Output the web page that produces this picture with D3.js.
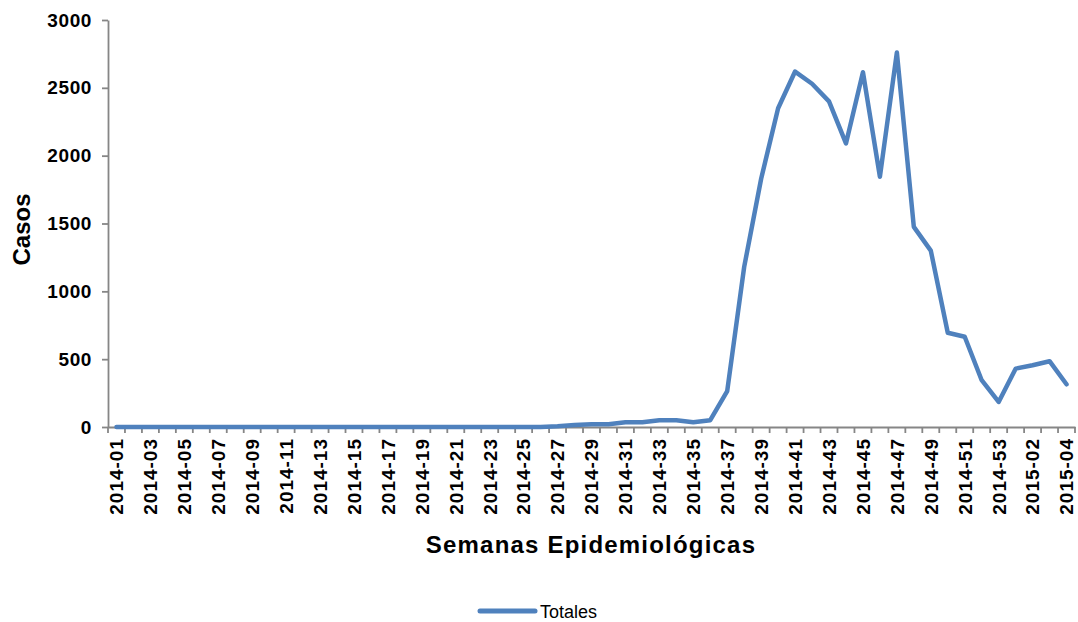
<!DOCTYPE html>
<html>
<head>
<meta charset="utf-8">
<script src="https://cdn.jsdelivr.net/npm/d3@7"></script>
<style>
  html, body { margin: 0; padding: 0; background: #fff; }
  svg { display: block; }
</style>
</head>
<body>
<svg id="chart" width="1078" height="622"></svg>
<script>
const categories = [
  "2014-01","2014-02","2014-03","2014-04","2014-05","2014-06","2014-07","2014-08","2014-09","2014-10",
  "2014-11","2014-12","2014-13","2014-14","2014-15","2014-16","2014-17","2014-18","2014-19","2014-20",
  "2014-21","2014-22","2014-23","2014-24","2014-25","2014-26","2014-27","2014-28","2014-29","2014-30",
  "2014-31","2014-32","2014-33","2014-34","2014-35","2014-36","2014-37","2014-38","2014-39","2014-40",
  "2014-41","2014-42","2014-43","2014-44","2014-45","2014-46","2014-47","2014-48","2014-49","2014-50",
  "2014-51","2014-52","2014-53","2015-01","2015-02","2015-03","2015-04"
];
const totales = [
  0,0,0,0,0,0,0,0,0,0,
  0,0,0,0,0,0,0,0,0,0,
  0,0,0,0,0,0,5,15,20,20,
  35,35,50,50,35,50,265,1180,1830,2350,
  2620,2530,2400,2090,2615,1845,2760,1475,1300,695,
  665,345,185,430,455,485,315
];
const tickLabels = [
  "2014-01","2014-03","2014-05","2014-07","2014-09","2014-11","2014-13","2014-15","2014-17","2014-19",
  "2014-21","2014-23","2014-25","2014-27","2014-29","2014-31","2014-33","2014-35","2014-37","2014-39",
  "2014-41","2014-43","2014-45","2014-47","2014-49","2014-51","2014-53","2015-02","2015-04"
];
const yTicks = [0, 500, 1000, 1500, 2000, 2500, 3000];
const seriesName = "Totales";

(function () {
const svg = d3.select("#chart");
const mLeft = 108, mRight = 1075, mTop = 20, mBottom = 427;
const axisColor = "#868686";
const lineColor = "#4F81BD";
const font = "'Liberation Sans', Arial, sans-serif";

const x = d3.scaleBand().domain(categories).range([mLeft, mRight]).padding(0);
const y = d3.scaleLinear().domain([0, 3000]).range([mBottom, mTop]);
const cx = c => x(c) + x.bandwidth() / 2;

// Y axis
const yAxis = svg.append("g")
  .attr("transform", `translate(${mLeft},0)`)
  .call(d3.axisLeft(y).tickValues(yTicks).tickFormat(d3.format("d")).tickSize(6).tickSizeOuter(0).tickPadding(10));
yAxis.select(".domain").attr("stroke", axisColor).attr("stroke-width", 1.8);
yAxis.selectAll(".tick line").attr("stroke", axisColor).attr("stroke-width", 1.8);
yAxis.selectAll(".tick text")
  .attr("fill", "#000")
  .style("font-family", font)
  .style("font-weight", "bold")
  .style("font-size", "19px")
  .style("letter-spacing", "0.6px");

// X axis labels
const xAxis = svg.append("g")
  .attr("transform", `translate(0,${mBottom})`)
  .call(d3.axisBottom(x).tickValues(tickLabels).tickSize(0).tickSizeOuter(0));
xAxis.select(".domain").attr("stroke", axisColor).attr("stroke-width", 1.8);
xAxis.selectAll(".tick text")
  .attr("transform", "rotate(-90)")
  .attr("x", -11)
  .attr("y", 0)
  .attr("dy", "0.36em")
  .attr("fill", "#000")
  .style("text-anchor", "end")
  .style("font-family", font)
  .style("font-weight", "bold")
  .style("font-size", "19px")
  .style("letter-spacing", "1px");

// X boundary ticks
const bounds = categories.map(c => x(c)).concat([x.range()[1]]);
svg.append("g").selectAll("line").data(bounds).join("line")
  .attr("x1", d => d).attr("x2", d => d)
  .attr("y1", mBottom).attr("y2", mBottom + 6)
  .attr("stroke", axisColor).attr("stroke-width", 1.8);

// Line
const line = d3.line()
  .x((d, i) => cx(categories[i]))
  .y(d => y(d));
svg.append("path")
  .datum(totales)
  .attr("d", line)
  .attr("fill", "none")
  .attr("stroke", lineColor)
  .attr("stroke-width", 4.5)
  .attr("stroke-linejoin", "round")
  .attr("stroke-linecap", "round");

// Axis titles
svg.append("text")
  .attr("transform", `translate(30,${(mTop + mBottom) / 2 + 6}) rotate(-90)`)
  .attr("text-anchor", "middle")
  .style("font-family", font)
  .style("font-weight", "bold")
  .style("font-size", "24px")
  .text("Casos");

svg.append("text")
  .attr("x", 591)
  .attr("y", 553)
  .attr("text-anchor", "middle")
  .style("font-family", font)
  .style("font-weight", "bold")
  .style("font-size", "24px")
  .style("letter-spacing", "1.2px")
  .text("Semanas Epidemiológicas");

// Legend
const lg = svg.append("g");
lg.append("line")
  .attr("x1", 480).attr("x2", 535)
  .attr("y1", 611).attr("y2", 611)
  .attr("stroke", lineColor).attr("stroke-width", 5).attr("stroke-linecap", "round");
lg.append("text")
  .attr("x", 540).attr("y", 618)
  .style("font-family", font)
  .style("font-size", "18px")
  .attr("fill", "#000")
  .text(seriesName);
})();
</script>
</body>
</html>
